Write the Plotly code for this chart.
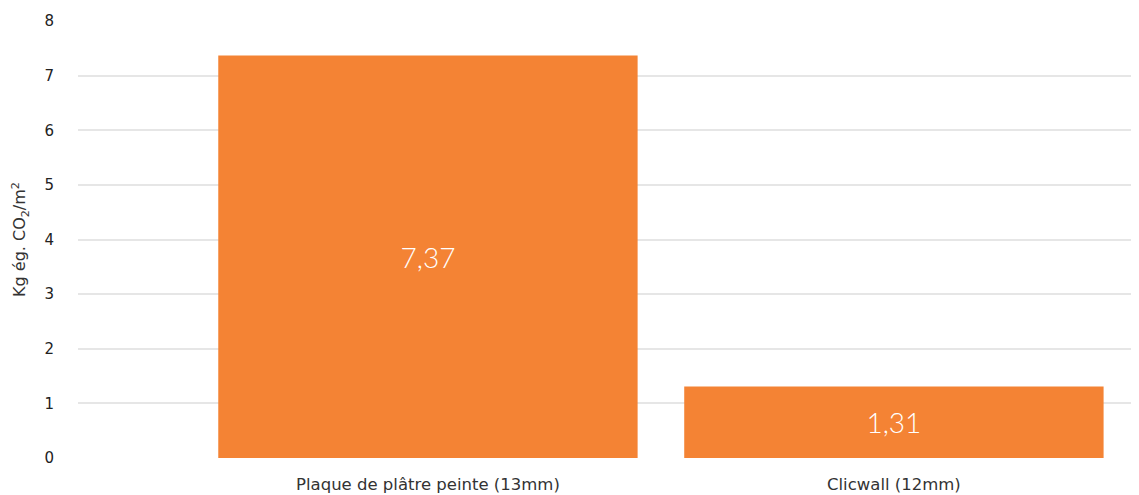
import plotly.graph_objects as go

categories = ["Plaque de plâtre peinte (13mm)", "Clicwall (12mm)"]
values = [7.37, 1.31]
y_ticks = [0, 1, 2, 3, 4, 5, 6, 7, 8]

FONT = "DejaVu Sans"
ORANGE = "#F48334"

fig = go.Figure(
    go.Bar(
        x=categories,
        y=values,
        width=0.9,
        marker=dict(color=ORANGE, line=dict(width=0)),
        texttemplate="%{y:.2f}",
        textposition="inside",
        insidetextanchor="middle",
        textangle=0,
        textfont=dict(family="Lato", size=28, color="white", weight=300),
        hoverinfo="skip",
    )
)

fig.update_layout(
    width=1131,
    height=487,
    margin=dict(l=70, r=0, t=13, b=37),
    paper_bgcolor="white",
    plot_bgcolor="white",
    separators=", ",
    showlegend=False,
    font=dict(family=FONT, color="#333333"),
    xaxis=dict(
        type="category",
        range=[-0.751, 1.526],
        showgrid=False,
        showline=False,
        zeroline=False,
        ticks="outside",
        ticklen=11,
        tickcolor="rgba(0,0,0,0)",
        tickfont=dict(family=FONT, size=16.5, color="#333333"),
    ),
    yaxis=dict(
        range=[0, 8],
        tickvals=y_ticks,
        showgrid=True,
        gridcolor="#E6E6E6",
        gridwidth=1.5,
        zeroline=False,
        showline=False,
        ticks="outside",
        ticklen=20,
        tickcolor="rgba(0,0,0,0)",
        tickfont=dict(family=FONT, size=15, color="#222222"),
        title=dict(
            text="Kg ég. CO<sub>2</sub>/m<sup>2</sup>",
            font=dict(family=FONT, size=16, color="#333333"),
            standoff=14,
        ),
    ),
)

fig.write_html("out.html")
